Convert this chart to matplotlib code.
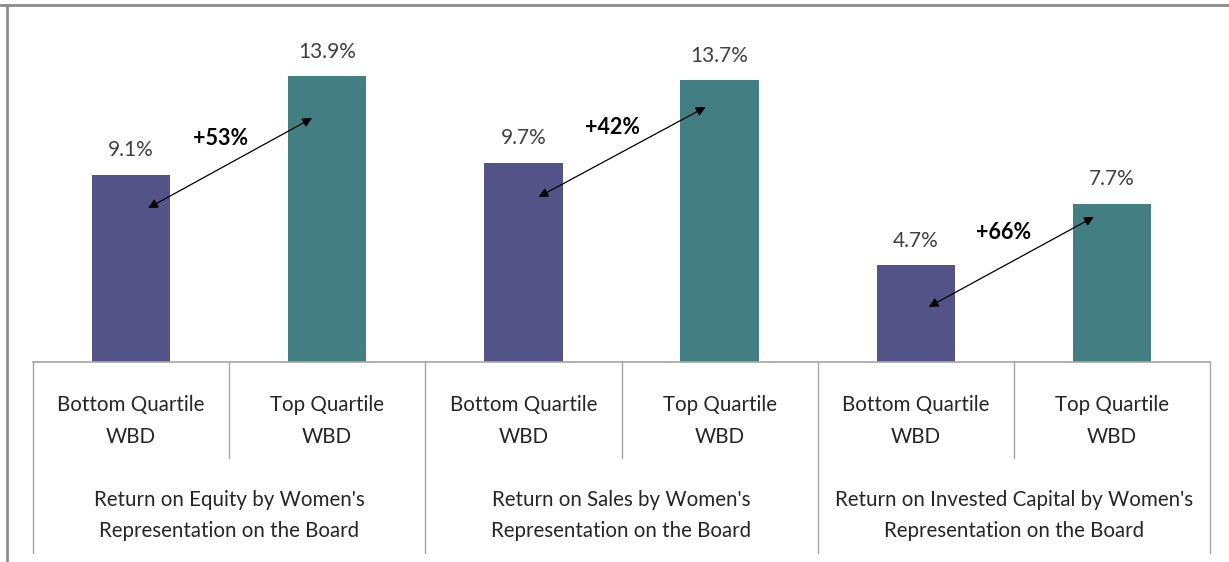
import matplotlib.pyplot as plt
from matplotlib.lines import Line2D

# data
groups = ["Return on Equity by Women's\nRepresentation on the Board",
          "Return on Sales by Women's\nRepresentation on the Board",
          "Return on Invested Capital by Women's\nRepresentation on the Board"]
quartiles = ["Bottom Quartile\nWBD", "Top Quartile\nWBD"]
bottom_vals = [9.1, 9.7, 4.7]
top_vals = [13.9, 13.7, 7.7]
uplift = ["+53%", "+42%", "+66%"]
# annotation arrows (start at bottom bar, end at top bar), in data units
arrow_start = [(0.587, 7.49), (2.577, 8.03), (4.566, 2.68)]
arrow_end = [(1.423, 11.87), (3.429, 12.41), (5.408, 7.06)]
uplift_pos = [(0.954, 10.9), (2.954, 11.39), (4.949, 6.28)]

purple = "#535388"
teal = "#427E82"
grid_col = "#a6a6a6"
txt = "#262626"
font = "Lato"

W, H = 1229, 562
fig = plt.figure(figsize=(W / 100, H / 100), dpi=100)
ax = fig.add_axes([33 / W, (H - 362) / H, (1210 - 33) / W, 357 / H])
ax.set_xlim(0, 6)
ax.set_ylim(0, 357 / 20.55)
ax.axis("off")

x_bot = [2 * i + 0.5 for i in range(3)]
x_top = [2 * i + 1.5 for i in range(3)]
ax.bar(x_bot, bottom_vals, width=0.4, color=purple)
ax.bar(x_top, top_vals, width=0.4, color=teal)

for xs, vals in ((x_bot, bottom_vals), (x_top, top_vals)):
    for x, v in zip(xs, vals):
        ax.text(x, v + 1.2, f"{v:.1f}%", ha="center", va="center",
                fontsize=15, color="#404040", family=font)

for s, e, lab, p in zip(arrow_start, arrow_end, uplift, uplift_pos):
    ax.annotate("", xy=e, xytext=s,
                arrowprops=dict(arrowstyle="<|-|>", color="black", lw=0.9,
                                mutation_scale=14, shrinkA=0, shrinkB=0))
    ax.text(p[0], p[1], lab, ha="center", va="center", fontsize=15.5,
            fontweight="bold", color="black", family=font)

# category axis with grouped labels
tr = ax.get_xaxis_transform()
ax.plot([0, 6], [0, 0], transform=tr, color=grid_col, lw=1.2, clip_on=False)
for gx in range(0, 7, 2):
    ax.plot([gx, gx], [0, -0.535], transform=tr, color=grid_col, lw=1, clip_on=False)
for i in range(3):
    ax.plot([2 * i + 1, 2 * i + 1], [0, -0.269], transform=tr, color=grid_col,
            lw=1, clip_on=False)
    for x, q in zip((x_bot[i], x_top[i]), quartiles):
        ax.text(x, -0.165, q, transform=tr, ha="center", va="center",
                fontsize=14.8, color=txt, family=font, linespacing=1.72)
    ax.text(2 * i + 1, -0.43, groups[i], transform=tr, ha="center",
            va="center", fontsize=14.8, color=txt, family=font, linespacing=1.72)

# outer frame (top and left edges visible)
fig.add_artist(Line2D([0, 1], [1 - 5 / H, 1 - 5 / H], transform=fig.transFigure,
                      color="#8c8c8c", lw=2))
fig.add_artist(Line2D([7 / W, 7 / W], [0, 1 - 5 / H], transform=fig.transFigure,
                      color="#8c8c8c", lw=2))

fig.savefig("out.png", dpi=100)
